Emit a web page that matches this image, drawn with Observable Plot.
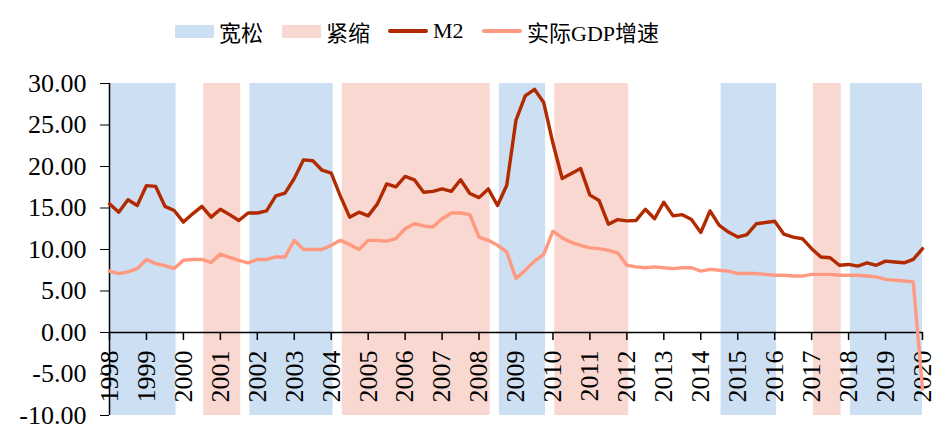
<!DOCTYPE html>
<html>
<head>
<meta charset="utf-8">
<script src="https://cdn.jsdelivr.net/npm/d3@7"></script>
<script src="https://cdn.jsdelivr.net/npm/@observablehq/plot@0.6"></script>
<style>
  html, body { margin: 0; padding: 0; background: #fff; }
  #legend { height: 60px; position: relative; font-family: "Liberation Serif", "Noto Sans CJK SC", serif; font-size: 22px; color: #000; }
  .item { position: absolute; top: 17px; display: flex; align-items: center; height: 28px; }
  .sw { width: 39px; height: 13px; margin-right: 5px; }
  .ln { width: 40px; height: 4px; margin-right: 5px; border-radius: 2px; }
</style>
</head>
<body>
<div id="legend"></div>
<div id="chart"></div>
<script>
// Quarterly data, 1998Q1 .. 2020Q1
const startYear = 1998;
const m2 = [
  15.5, 14.5, 16.0, 15.3, 17.7, 17.6, 15.2, 14.7,
  13.3, 14.3, 15.2, 13.9, 14.85, 14.2, 13.5, 14.4,
  14.4, 14.65, 16.45, 16.8, 18.55, 20.8, 20.7, 19.55,
  19.2, 16.4, 13.9, 14.5, 14.05, 15.5, 17.9, 17.55,
  18.8, 18.4, 16.9, 17.0, 17.3, 17.0, 18.4, 16.75,
  16.25, 17.3, 15.3, 17.75, 25.6, 28.5, 29.3, 27.7,
  22.8, 18.55, 19.15, 19.75, 16.55, 15.9, 13.05, 13.6,
  13.45, 13.5, 14.85, 13.7, 15.7, 14.05, 14.2, 13.6,
  12.05, 14.65, 12.9, 12.1, 11.5, 11.8, 13.1, 13.25,
  13.4, 11.85, 11.5, 11.3, 10.1, 9.1, 9.0, 8.1,
  8.2, 8.0, 8.4, 8.1, 8.6, 8.5, 8.4, 8.8,
  10.1
];
const gdp = [
  7.4, 7.1, 7.3, 7.7, 8.8, 8.3, 8.05, 7.7,
  8.7, 8.8, 8.8, 8.45, 9.45, 9.05, 8.7, 8.4,
  8.8, 8.8, 9.1, 9.1, 11.1, 10.0, 10.0, 10.0,
  10.5, 11.1, 10.6, 10.0, 11.1, 11.1, 11.0, 11.3,
  12.5, 13.1, 12.85, 12.7, 13.7, 14.4, 14.4, 14.2,
  11.5, 11.1, 10.5, 9.7, 6.5, 7.5, 8.6, 9.4,
  12.2, 11.4, 10.85, 10.5, 10.2, 10.1, 9.9, 9.6,
  8.1, 7.9, 7.8, 7.9, 7.8, 7.7, 7.8, 7.8,
  7.4, 7.6, 7.5, 7.4, 7.1, 7.1, 7.1, 7.0,
  6.9, 6.9, 6.8, 6.8, 7.0, 7.0, 7.0, 6.9,
  6.9, 6.9, 6.8, 6.7, 6.4, 6.3, 6.2, 6.1,
  -6.8
];
// Policy periods (decimal years)
const easeStart = [1998.0, 2001.8, 2008.55, 2014.55, 2018.05];
const easeEnd   = [1999.8, 2004.05, 2009.8, 2016.05, 2020.0];
const tightStart = [2000.55, 2004.3, 2010.05, 2017.05];
const tightEnd   = [2001.55, 2008.3, 2012.05, 2017.8];
const yearTicks = d3.range(1998, 2021);
const yTicks = [-10, -5, 0, 5, 10, 15, 20, 25, 30];

const labels = { ease: "宽松", tight: "紧缩", m2: "M2", gdp: "实际GDP增速" };
const colors = { ease: "#CDDFF2", tight: "#F9D8D2", m2: "#B22A00", gdp: "#FF9980" };

const t = i => startYear + i / 4;
const m2Data = m2.map((v, i) => ({ t: t(i), v }));
const gdpData = gdp.map((v, i) => ({ t: t(i), v }));
const ease = easeStart.map((s, i) => ({ x1: s, x2: easeEnd[i] }));
const tight = tightStart.map((s, i) => ({ x1: s, x2: tightEnd[i] }));

// Legend
const legend = document.getElementById("legend");
const items = [
  { key: "ease", kind: "sw", left: 175 },
  { key: "tight", kind: "sw", left: 282 },
  { key: "m2", kind: "ln", left: 388 },
  { key: "gdp", kind: "ln", left: 482 }
];
for (const it of items) {
  const d = document.createElement("div");
  d.className = "item";
  d.style.left = it.left + "px";
  const s = document.createElement("div");
  s.className = it.kind;
  s.style.background = colors[it.key];
  const tx = document.createElement("span");
  tx.textContent = labels[it.key];
  d.appendChild(s); d.appendChild(tx);
  legend.appendChild(d);
}

const plot = Plot.plot({
  width: 937,
  height: 366,
  marginLeft: 109,
  marginRight: 15,
  marginTop: 23,
  marginBottom: 11,
  style: { fontFamily: "Liberation Serif, serif", fontSize: "26px", color: "#000", background: "#fff" },
  x: { domain: [1998, 2020], type: "linear", axis: null },
  y: { domain: [-10, 30] },
  marks: [
    Plot.rectX(ease, { x1: "x1", x2: "x2", y1: -10, y2: 30, fill: colors.ease }),
    Plot.rectX(tight, { x1: "x1", x2: "x2", y1: -10, y2: 30, fill: colors.tight }),
    Plot.axisY({ ticks: yTicks, tickFormat: d => d.toFixed(2), tickSize: 9, tickPadding: 14, label: null, fontSize: 26 }),
    Plot.ruleX([1998], { stroke: "#000", strokeWidth: 1.5 }),
    Plot.ruleY([0], { stroke: "#000", strokeWidth: 1.5 }),
    Plot.ruleX(yearTicks, { x: d => d, y1: 0, y2: 0, insetBottom: -8, stroke: "#000", strokeWidth: 1.5 }),
    Plot.text(yearTicks, { x: d => d, y: 0, text: d => String(d), rotate: -90, textAnchor: "end", dy: 18, fontSize: 26, fill: "#000", lineAnchor: "middle" }),
    Plot.line(gdpData, { x: "t", y: "v", stroke: colors.gdp, strokeWidth: 3.4, strokeLinejoin: "round" }),
    Plot.line(m2Data, { x: "t", y: "v", stroke: colors.m2, strokeWidth: 3.4, strokeLinejoin: "round" })
  ]
});
document.getElementById("chart").appendChild(plot);
</script>
</body>
</html>
